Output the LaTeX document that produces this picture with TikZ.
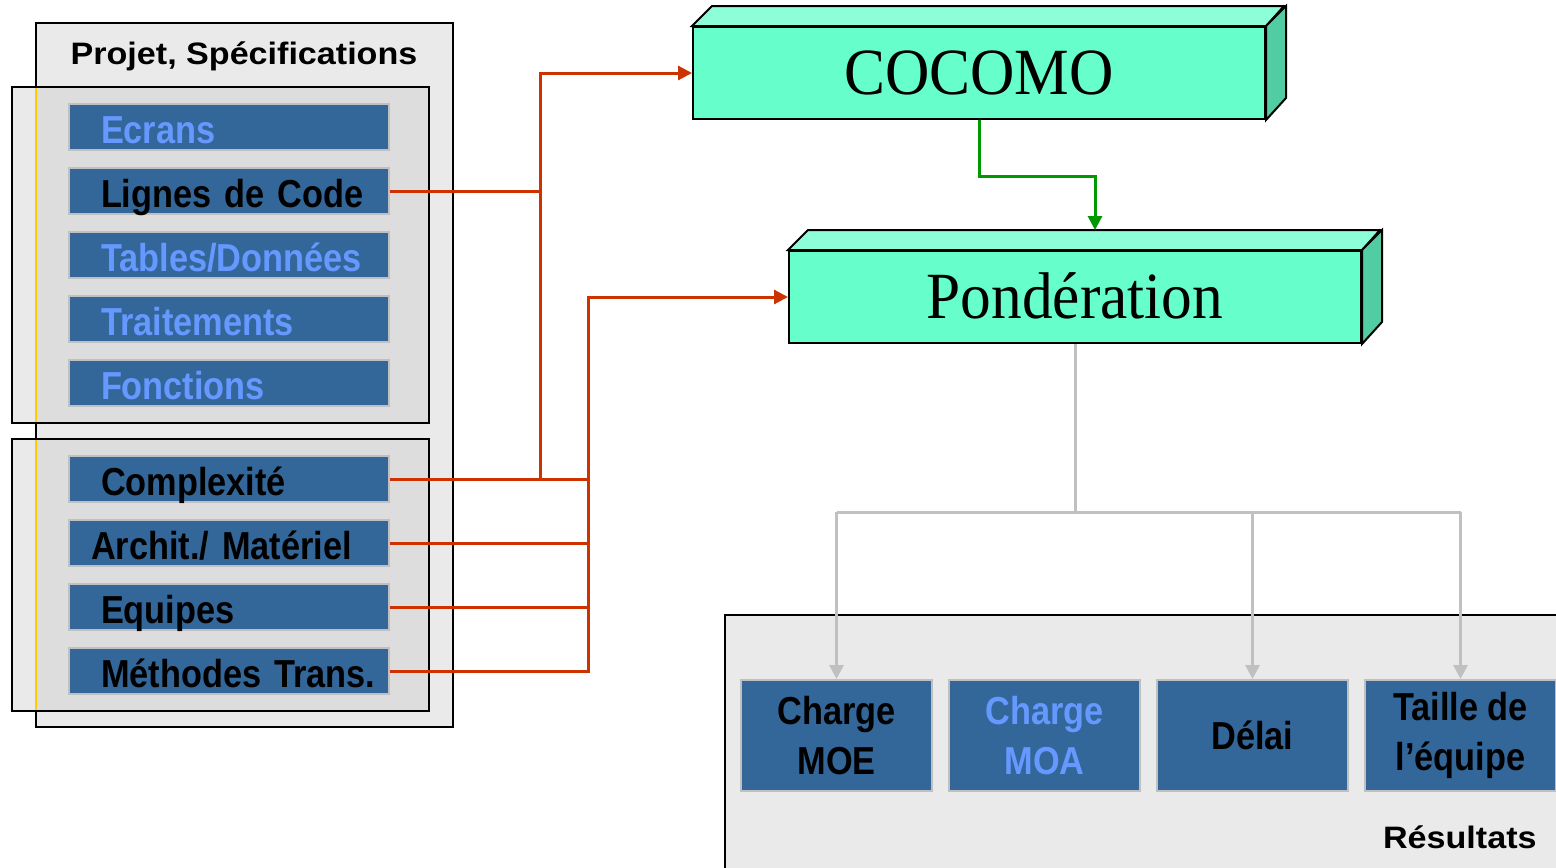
\documentclass[tikz,border=0pt]{standalone}
\usepackage{fontspec}
\setmainfont{Liberation Serif}
\newfontfamily\barfont[FakeStretch=0.88]{Liberation Sans}
\newfontfamily\headfont[FakeStretch=1.1]{Liberation Sans}
\newfontfamily\cubefont[FakeStretch=0.93]{Liberation Serif}
\usetikzlibrary{arrows.meta}

\definecolor{barblue}{HTML}{336699}
\definecolor{lightblue}{HTML}{6699FF}
\definecolor{panelgrey}{HTML}{EAEAEA}
\definecolor{innergrey}{HTML}{DDDDDD}
\definecolor{linkred}{HTML}{CC3300}
\definecolor{linkgreen}{HTML}{009900}
\definecolor{linkgrey}{HTML}{C0C0C0}
\definecolor{mint}{HTML}{66FFCC}
\definecolor{minttop}{HTML}{8CFFD9}
\definecolor{mintside}{HTML}{52CCA3}
\definecolor{edgeyellow}{HTML}{FFCC00}

\tikzset{
  bar/.style={draw=linkgrey, line width=1pt, fill=barblue, anchor=west,
    minimum width=160pt, minimum height=23pt, inner ysep=0pt, inner xsep=4pt,
    text width=152pt, align=left, text height=16pt, text depth=0pt,
    execute at begin node={\hspace*{#1}},
    font=\barfont\bfseries\fontsize{19.5}{23}\selectfont},
  bar/.default=12pt,
  result/.style={draw=linkgrey, line width=1pt, fill=barblue,
    minimum width=95.5pt, minimum height=55.5pt, align=center,
    font=\barfont\bfseries\fontsize{19.5}{25}\selectfont},
  cube/.style={draw, line width=1pt, fill=mint, minimum width=286pt, minimum height=46pt,
    inner sep=0pt, text height=21.8pt, text depth=0pt, font=\cubefont\fontsize{33}{36}\selectfont},
  head/.style={inner sep=0pt, font=\headfont\bfseries\fontsize{15.5}{18}\selectfont},
  redlink/.style={linkred, line width=1.5pt},
  greylink/.style={linkgrey, line width=1.5pt},
  greenlink/.style={linkgreen, line width=1.5pt},
  tip/.style={-{Triangle[length=7pt,width=7pt]}}
}

\begin{document}
\begin{tikzpicture}[x=0.5pt,y=-0.5pt]
\useasboundingbox (0,0) rectangle (1556,867);
\clip (0,0) rectangle (1556,867);

% input side
\draw[fill=panelgrey, line width=1pt] (36,23) rectangle (453,727);
\node[head, anchor=base] (projet) at (244,64) {Projet, Spécifications};

\fill[panelgrey] (12,87) rectangle (429,423);
\fill[innergrey] (36,87) rectangle (429,423);
\draw[edgeyellow, line width=1pt] (36,87) -- (36,423);
\draw[line width=1pt] (12,87) rectangle (429,423);

\fill[panelgrey] (12,439) rectangle (429,711);
\fill[innergrey] (36,439) rectangle (429,711);
\draw[edgeyellow, line width=1pt] (36,439) -- (36,711);
\draw[line width=1pt] (12,439) rectangle (429,711);

\node[bar, text=lightblue] (ecrans) at (68,127) {Ecrans};
\node[bar] (lignes) at (68,191) {Lignes de Code};
\node[bar, text=lightblue] (tables) at (68,255) {Tables/Données};
\node[bar, text=lightblue] (traitements) at (68,319) {Traitements};
\node[bar, text=lightblue] (fonctions) at (68,383) {Fonctions};

\node[bar] (complex) at (68,479) {Complexité};
\node[bar=7pt] (archit) at (68,543) {Archit./ Matériel};
\node[bar] (equipes) at (68,607) {Equipes};
\node[bar] (methodes) at (68,671) {Méthodes Trans.};

% models
\node[cube] (cocomo) at (979,73) {COCOMO};
\draw[line width=1pt, fill=minttop] (cocomo.north west) -- ++(20,-20) -- ++(572,0) -- (cocomo.north east) -- cycle;
\draw[line width=1pt, fill=mintside] (cocomo.north east) -- ++(20,-20) -- ++(0,92) -- (cocomo.south east) -- cycle;

\node[cube] (pond) at (1075,297) {Pondération};
\draw[line width=1pt, fill=minttop] (pond.north west) -- ++(20,-20) -- ++(572,0) -- (pond.north east) -- cycle;
\draw[line width=1pt, fill=mintside] (pond.north east) -- ++(20,-20) -- ++(0,92) -- (pond.south east) -- cycle;
\coordinate (pondtop) at ([xshift=10pt,yshift=10pt]pond.north);

% results
\draw[fill=panelgrey, line width=1pt] (725,615) rectangle (1600,900);
\node[result] (moe) at (836.5,735.5) {Charge\\MOE};
\node[result, text=lightblue] (moa) at (1044.5,735.5) {Charge\\MOA};
\node[result] (delai) at (1252.5,735.5) {Délai};
\node[result] (taille) at (1460.5,735.5) {Taille de\\l’équipe};
\node[head, anchor=base east] (resultats) at (1537,848) {Résultats};

% links
\coordinate (busA) at (540,0);
\coordinate (busB) at (588,0);
\draw[redlink, tip] (lignes.east) -| (busA |- cocomo.west) -- (cocomo.west);
\draw[redlink] (complex.east -| busA) -- (lignes.east -| busA);
\draw[redlink] (complex.east) -- (complex.east -| busB);
\draw[redlink] (archit.east) -- (archit.east -| busB);
\draw[redlink] (equipes.east) -- (equipes.east -| busB);
\draw[redlink, tip] (methodes.east) -| (busB |- pond.west) -- (pond.west);

\draw[greenlink, tip] (cocomo.south) -- ++(0,56) -| (pondtop);

\draw[greylink] (pond.south) -- ++(0,168) coordinate (fork);
\draw[greylink] (moe.north |- fork) -- (taille.north |- fork);
\draw[greylink, tip] (moe.north |- fork) -- (moe.north);
\draw[greylink, tip] (delai.north |- fork) -- (delai.north);
\draw[greylink, tip] (taille.north |- fork) -- (taille.north);

\end{tikzpicture}
\end{document}
